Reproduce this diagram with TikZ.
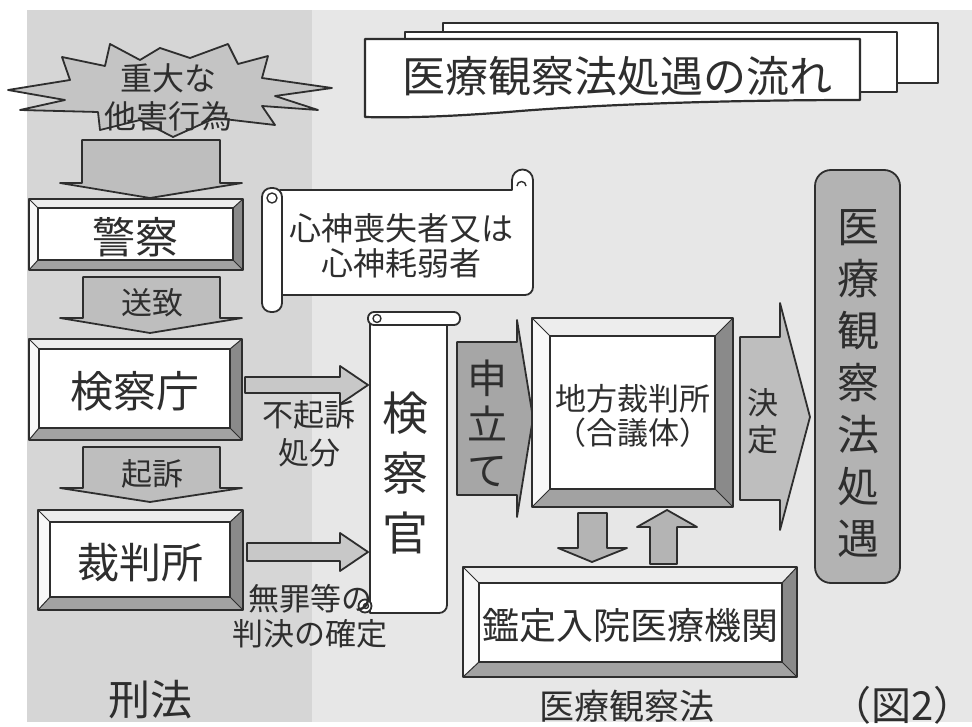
\documentclass[tikz,border=0pt]{standalone}
\usepackage{fontspec}
\setmainfont{Noto Sans CJK JP}
\usetikzlibrary{calc}
\definecolor{ink}{HTML}{2E2E2E}
\definecolor{lpanel}{HTML}{D6D6D6}
\definecolor{rpanel}{HTML}{E7E7E7}
\definecolor{arrowfill}{HTML}{BEBEBE}
\definecolor{darkarrow}{HTML}{A6A6A6}
\definecolor{burstfill}{HTML}{C4C4C4}
\definecolor{bevR}{HTML}{8A8A8A}
\definecolor{bevB}{HTML}{A2A2A2}
\definecolor{bevT}{HTML}{EDEDED}
\definecolor{bevL}{HTML}{F8F8F8}
\definecolor{resultfill}{HTML}{B3B3B3}
\tikzset{
  outline/.style={draw=ink, line width=1.8pt, line join=round},
  blockarrow/.style={outline, fill=arrowfill},
  txt/.style={text=ink, inner sep=0pt, align=center},
}
\newcommand\fs[2]{\fontsize{#1}{#2}\selectfont}
% #1 name, #2 x1, #3 y1, #4 x2, #5 y2, #6 top/left bevel, #7 right/bottom bevel, #8 font, #9 content
\newcommand\bevelbox[9]{%
  \fill[bevT] (#2,#3) -- (#4,#3) -- ({#4-#7},{#3+#6}) -- ({#2+#6},{#3+#6}) -- cycle;
  \fill[bevL] (#2,#3) -- ({#2+#6},{#3+#6}) -- ({#2+#6},{#5-#7}) -- (#2,#5) -- cycle;
  \fill[bevR] (#4,#3) -- (#4,#5) -- ({#4-#7},{#5-#7}) -- ({#4-#7},{#3+#6}) -- cycle;
  \fill[bevB] (#2,#5) -- (#4,#5) -- ({#4-#7},{#5-#7}) -- ({#2+#6},{#5-#7}) -- cycle;
  \draw[ink, line width=1pt] (#2,#3) -- ({#2+#6},{#3+#6}) (#4,#3) -- ({#4-#7},{#3+#6})
     (#2,#5) -- ({#2+#6},{#5-#7}) (#4,#5) -- ({#4-#7},{#5-#7});
  \draw[outline, fill=white] ({#2+#6},{#3+#6}) rectangle ({#4-#7},{#5-#7});
  \draw[outline] (#2,#3) rectangle (#4,#5);
  \node[txt, font=#8] (#1) at ({(#2+#4+#6-#7)/2},{(#3+#5+#6-#7)/2+3}) {#9};
}
\begin{document}
\begin{tikzpicture}[x=1pt,y=-1pt]
\useasboundingbox (0,0) rectangle (972,727);
% backgrounds
\fill[white] (0,0) rectangle (972,727);
\fill[rpanel] (27,10) rectangle (972,722);
\fill[lpanel] (27,10) rectangle (312,722);

% ---- title (stacked sheets)
\draw[outline, line width=2.2pt, fill=white] (443,23) rectangle (938,83);
\draw[outline, line width=2.2pt, fill=white] (405,32) rectangle (897,92);
\draw[outline, line width=2.2pt, fill=white] (365,39) -- (860,39) -- (860,100)
  .. controls (730,100) and (610,104) .. (520,111)
  .. controls (450,117) and (400,118) .. (365,117) -- cycle;
\node[txt, font=\fs{43}{43}] (title) at (617,76) {医療観察法処遇の流れ};

% ---- burst
\draw[outline, fill=burstfill] (8,90) -- (70,80) -- (62,57) -- (105,66) -- (110,44) -- (140,60)
  -- (160,48) -- (190,58) -- (228,44) -- (238,64) -- (268,56) -- (262,78) -- (332,88)
  -- (275,96) -- (318,110) -- (262,106) -- (275,125) -- (215,118) -- (173,137)
  -- (140,120) -- (100,130) -- (98,112) -- (20,110) -- (65,100) -- cycle;
\node[txt, font=\fs{32}{38}] (burst) at (168,97) {重大な\\他害行為};

% ---- vertical flow arrows (left)
\draw[blockarrow] (82,140) -- (220,140) -- (220,183) -- (242,183) -- (150,198) -- (60,183) -- (82,183) -- cycle;
\draw[blockarrow] (83,277) -- (220,277) -- (220,318) -- (242,318) -- (150,333) -- (60,318) -- (83,318) -- cycle;
\node[txt, font=\fs{31}{31}] (sochi) at (152,303) {送致};
\draw[blockarrow] (83,447) -- (220,447) -- (220,488) -- (242,488) -- (150,502) -- (60,488) -- (83,488) -- cycle;
\node[txt, font=\fs{31}{31}] (kiso) at (152,474) {起訴};

% ---- left boxes
\bevelbox{keisatsu}{29}{199}{243}{270}{9}{10}{\fs{43}{43}}{警察}
\bevelbox{kensatsucho}{29}{339}{242}{440}{10}{12}{\fs{43}{43}}{検察庁}
\bevelbox{saibansho}{38}{510}{243}{610}{12}{13}{\fs{42}{42}}{裁判所}

% ---- horizontal arrows to prosecutor
\draw[blockarrow, fill=arrowfill!85!white] (245,377) -- (340,377) -- (340,366) -- (368,385) -- (340,404) -- (340,393) -- (245,393) -- cycle;
\node[txt, font=\fs{31}{38}] (fukiso) at (309,434) {不起訴\\処分};
\draw[blockarrow, fill=arrowfill!85!white] (247,543) -- (340,543) -- (340,533) -- (368,552) -- (340,571) -- (340,561) -- (247,561) -- cycle;

% ---- scroll: 心神喪失者又は心神耗弱者
\draw[outline, fill=white] (280,190) -- (512,190) -- (512,180)
  arc[start angle=180, end angle=360, radius=10.5] -- (533,287)
  arc[start angle=0, end angle=90, radius=8] -- (280,295) -- cycle;
\draw[outline, line width=1.4pt] (517,186) arc[start angle=180, end angle=360, radius=4.5];
\draw[outline, fill=white, rounded corners=9] (262,188) rectangle (282,312);
\draw[outline, line width=1.4pt] (272,198) circle[radius=5];
\node[txt, font=\fs{32}{35}] (shinshin) at (401,246) {心神喪失者又は\\心神耗弱者};

% ---- scroll: 検察官
\draw[outline, fill=white] (370,320) -- (447,320) -- (447,605)
  arc[start angle=0, end angle=90, radius=8] -- (370,613) -- cycle;
\draw[outline, fill=white, rounded corners=6] (368,312) rectangle (460,325);
\draw[outline, line width=1.4pt] (377,318.5) circle[radius=4];
\draw[outline, fill=white] (365,606) circle[radius=6.5];
\draw[outline, line width=1.4pt] (366,606) circle[radius=2.5];
\node[txt, font=\fs{46}{60}] (kensatsukan) at (405,473) {検\\察\\官};
\node[txt, font=\fs{31}{35}] (muzai) at (310,616) {無罪等の\\判決の確定};

% ---- 申立て arrow
\draw[outline, fill=darkarrow] (457,342) -- (517,342) -- (517,320) -- (533,418) -- (517,517) -- (517,495) -- (457,495) -- cycle;
\node[txt, font=\fs{40}{46}] (moshitate) at (487,423) {申\\立\\て};

% ---- 決定 arrow
\draw[blockarrow] (740,337) -- (780,337) -- (780,303) -- (810,417) -- (780,530) -- (780,500) -- (740,500) -- cycle;
\node[txt, font=\fs{31}{37}] (kettei) at (763,421) {決\\定};

% ---- small arrows between court and hospital
\draw[blockarrow, fill=arrowfill!95!black] (578,513) -- (607,513) -- (607,548) -- (627,548) -- (592,562) -- (558,548) -- (578,548) -- cycle;
\draw[blockarrow, fill=arrowfill!95!black] (650,564) -- (650,527) -- (637,527) -- (667,510) -- (697,527) -- (677,527) -- (677,564) -- cycle;

% ---- right side boxes
\bevelbox{chiho}{532}{318}{733}{507}{18}{18}{\fs{31}{34}}{地方裁判所\\（合議体）}
\bevelbox{kantei}{463}{567}{797}{677}{16}{15}{\fs{37}{37}}{鑑定入院医療機関}

% ---- result box
\draw[outline, fill=resultfill, rounded corners=16] (815,170) rectangle (900,583);
\node[txt, font=\fs{42}{52}] (shogu) at (858,384) {医\\療\\観\\察\\法\\処\\遇};

% ---- captions
\node[txt, font=\fs{42}{42}] (keiho) at (150,700) {刑法};
\node[txt, font=\fs{35}{35}] (iryo) at (627,706) {医療観察法};
\node[txt, font=\fs{40}{40}, anchor=east] (zu) at (974,705) {（図2）};
\end{tikzpicture}
\end{document}
